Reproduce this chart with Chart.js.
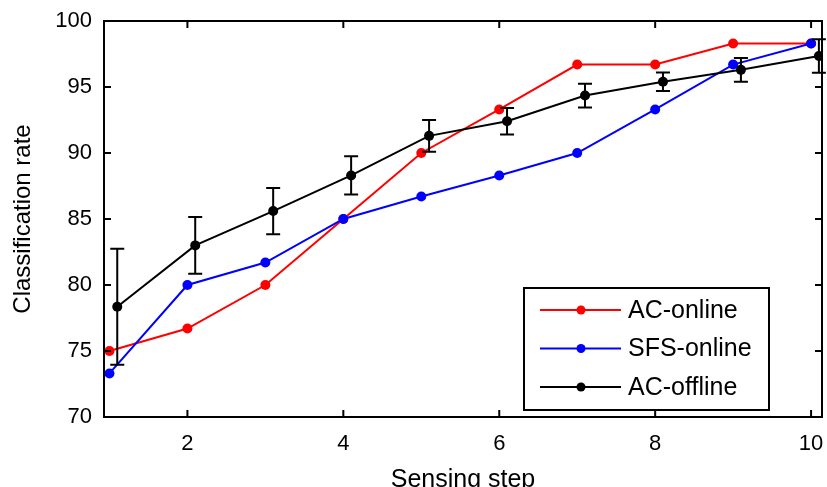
<!DOCTYPE html>
<html>
<head>
<meta charset="utf-8">
<script src="https://cdn.jsdelivr.net/npm/chart.js@4/dist/chart.umd.min.js"></script>
<style>
  html, body { margin: 0; padding: 0; background: #fff; }
  #chart { display: block; }
</style>
</head>
<body>
<canvas id="chart" width="827" height="487"></canvas>
<script>
// values
const steps = [1, 2, 3, 4, 5, 6, 7, 8, 9, 10];
const acOnline = [75, 76.7, 80, 85, 90, 93.3, 96.7, 96.7, 98.3, 98.3];
const sfsOnline = [73.3, 80, 81.7, 85, 86.7, 88.3, 90, 93.3, 96.7, 98.3];
// offline curve is drawn slightly shifted to the right
const offlineSteps = [1.1, 2.1, 3.1, 4.1, 5.1, 6.1, 7.1, 8.1, 9.1, 10.1];
const acOffline = [78.35, 83.0, 85.6, 88.3, 91.3, 92.4, 94.35, 95.4, 96.3, 97.35];
const acOfflineErr = [4.4, 2.15, 1.75, 1.45, 1.2, 1.0, 0.9, 0.7, 0.9, 1.27];

const xTicks = [2, 4, 6, 8, 10];
const yTicks = [70, 75, 80, 85, 90, 95, 100];
const labels = ['AC-online', 'SFS-online', 'AC-offline'];

const FONT = '"Liberation Sans", Arial, sans-serif';

function toPoints(xs, ys) {
  return xs.map((x, i) => ({x: x, y: ys[i]}));
}

// box, inward ticks, error bars, legend inside the axes
const matlabLook = {
  id: 'matlabLook',
  afterDatasetsDraw(chart) {
    const ctx = chart.ctx;
    const xs = chart.scales.x, ys = chart.scales.y;
    ctx.save();
    ctx.strokeStyle = '#000';
    ctx.lineWidth = 2;
    offlineSteps.forEach((x, i) => {
      const px = xs.getPixelForValue(x);
      const top = ys.getPixelForValue(acOffline[i] + acOfflineErr[i]);
      const bot = ys.getPixelForValue(acOffline[i] - acOfflineErr[i]);
      ctx.beginPath();
      ctx.moveTo(px, top); ctx.lineTo(px, bot);
      ctx.moveTo(px - 7, top); ctx.lineTo(px + 7, top);
      ctx.moveTo(px - 7, bot); ctx.lineTo(px + 7, bot);
      ctx.stroke();
    });
    ctx.restore();
  },
  afterDraw(chart) {
    const ctx = chart.ctx;
    const a = chart.chartArea;
    const xs = chart.scales.x, ys = chart.scales.y;
    ctx.save();
    ctx.strokeStyle = '#000';
    ctx.lineWidth = 2;
    ctx.strokeRect(a.left, a.top, a.right - a.left, a.bottom - a.top);
    ctx.beginPath();
    xTicks.forEach(v => {
      const px = xs.getPixelForValue(v);
      ctx.moveTo(px, a.bottom); ctx.lineTo(px, a.bottom - 7);
      ctx.moveTo(px, a.top); ctx.lineTo(px, a.top + 7);
    });
    yTicks.forEach(v => {
      const py = ys.getPixelForValue(v);
      ctx.moveTo(a.left, py); ctx.lineTo(a.left + 7, py);
      ctx.moveTo(a.right, py); ctx.lineTo(a.right - 7, py);
    });
    ctx.stroke();

    // legend
    const bx = 524, by = 288, bw = 245, bh = 122;
    ctx.fillStyle = '#fff';
    ctx.fillRect(bx, by, bw, bh);
    ctx.strokeRect(bx, by, bw, bh);
    ctx.font = '25px ' + FONT;
    ctx.textBaseline = 'middle';
    chart.data.datasets.forEach((ds, i) => {
      const y = 310 + i * 38.5;
      ctx.strokeStyle = ds.borderColor;
      ctx.lineWidth = 2;
      ctx.beginPath();
      ctx.moveTo(540, y); ctx.lineTo(621, y);
      ctx.stroke();
      ctx.fillStyle = ds.backgroundColor;
      ctx.beginPath();
      ctx.arc(581, y, 4.5, 0, Math.PI * 2);
      ctx.fill();
      ctx.fillStyle = '#000';
      ctx.fillText(ds.label, 628, y + 1);
    });
    ctx.restore();
  }
};

const ctx = document.getElementById('chart').getContext('2d');
new Chart(ctx, {
  type: 'line',
  data: {
    datasets: [
      {
        label: labels[0],
        data: toPoints(steps, acOnline),
        borderColor: '#ff0000',
        backgroundColor: '#ff0000',
        order: 3
      },
      {
        label: labels[1],
        data: toPoints(steps, sfsOnline),
        borderColor: '#0000ff',
        backgroundColor: '#0000ff',
        order: 2
      },
      {
        label: labels[2],
        data: toPoints(offlineSteps, acOffline),
        borderColor: '#000000',
        backgroundColor: '#000000',
        order: 1
      }
    ]
  },
  options: {
    responsive: false,
    animation: false,
    layout: {padding: {top: 21, right: 4, left: 0, bottom: 0}},
    elements: {
      line: {borderWidth: 2, tension: 0},
      point: {radius: 5, borderWidth: 0, hoverRadius: 5}
    },
    plugins: {
      legend: {display: false},
      tooltip: {enabled: false}
    },
    scales: {
      x: {
        type: 'linear',
        min: 0.93,
        max: 10.14,
        grid: {display: false, drawTicks: false},
        border: {display: false},
        afterBuildTicks: s => { s.ticks = xTicks.map(v => ({value: v})); },
        afterFit: s => { s.height = 70; s.paddingLeft = 0; s.paddingRight = 0; },
        ticks: {
          color: '#000',
          padding: 14,
          maxRotation: 0,
          font: {family: FONT, size: 22}
        },
        title: {
          display: true,
          text: 'Sensing step',
          color: '#000',
          padding: {top: 0, bottom: -6},
          font: {family: FONT, size: 25, lineHeight: 1}
        }
      },
      y: {
        min: 70,
        max: 100,
        grid: {display: false, drawTicks: false},
        border: {display: false},
        afterBuildTicks: s => { s.ticks = yTicks.map(v => ({value: v})); },
        afterFit: s => { s.width = 104; s.paddingTop = 0; s.paddingBottom = 0; },
        ticks: {
          color: '#000',
          padding: 12,
          font: {family: FONT, size: 22}
        },
        title: {
          display: true,
          text: 'Classification rate',
          color: '#000',
          padding: {top: 11, bottom: 0},
          font: {family: FONT, size: 24, lineHeight: 1}
        }
      }
    }
  },
  plugins: [matlabLook]
});
</script>
</body>
</html>
